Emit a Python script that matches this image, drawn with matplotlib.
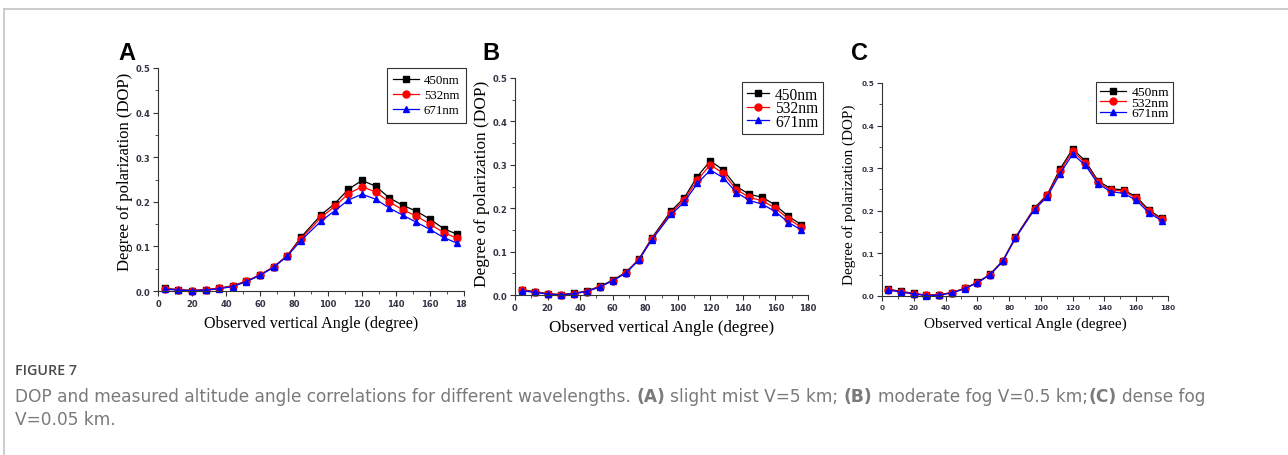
import numpy as np
import matplotlib
matplotlib.use("Agg")
import matplotlib.pyplot as plt
from matplotlib.lines import Line2D
from matplotlib.ticker import MultipleLocator
from matplotlib.transforms import Bbox

# Data
angles = [4, 12, 20, 28, 36, 44, 52, 60, 68, 76, 84, 96, 104, 112, 120, 128, 136, 144, 152, 160, 168, 176]
labels = ["450nm", "532nm", "671nm"]

# (A) slight mist
a_450 = [0.006, 0.003, 0.001, 0.003, 0.006, 0.012, 0.022, 0.036, 0.054, 0.079, 0.120, 0.171, 0.196, 0.228, 0.248, 0.235, 0.209, 0.192, 0.179, 0.161, 0.140, 0.127]
a_532 = [0.005, 0.003, 0.001, 0.003, 0.006, 0.011, 0.022, 0.036, 0.054, 0.079, 0.117, 0.165, 0.190, 0.218, 0.234, 0.222, 0.200, 0.182, 0.168, 0.150, 0.131, 0.118]
a_671 = [0.004, 0.002, 0.001, 0.002, 0.005, 0.010, 0.021, 0.035, 0.053, 0.078, 0.113, 0.157, 0.180, 0.204, 0.217, 0.206, 0.186, 0.170, 0.154, 0.138, 0.120, 0.107]

# (B) moderate fog
b_450 = [0.012, 0.008, 0.003, 0.001, 0.004, 0.009, 0.020, 0.034, 0.052, 0.082, 0.131, 0.194, 0.224, 0.273, 0.309, 0.288, 0.250, 0.232, 0.225, 0.207, 0.181, 0.162]
b_532 = [0.011, 0.007, 0.003, 0.001, 0.003, 0.008, 0.019, 0.033, 0.051, 0.081, 0.129, 0.190, 0.219, 0.265, 0.300, 0.280, 0.243, 0.225, 0.217, 0.200, 0.175, 0.156]
b_671 = [0.010, 0.006, 0.002, 0.000, 0.003, 0.008, 0.018, 0.033, 0.050, 0.080, 0.127, 0.186, 0.214, 0.257, 0.288, 0.270, 0.236, 0.218, 0.209, 0.192, 0.167, 0.150]

# (C) dense fog
c_450 = [0.016, 0.011, 0.006, 0.002, 0.003, 0.008, 0.018, 0.032, 0.051, 0.083, 0.138, 0.207, 0.238, 0.298, 0.345, 0.317, 0.270, 0.252, 0.249, 0.233, 0.202, 0.182]
c_532 = [0.015, 0.010, 0.005, 0.002, 0.003, 0.008, 0.018, 0.031, 0.050, 0.082, 0.137, 0.205, 0.236, 0.293, 0.340, 0.312, 0.267, 0.249, 0.246, 0.230, 0.199, 0.180]
c_671 = [0.014, 0.009, 0.005, 0.001, 0.002, 0.007, 0.017, 0.031, 0.050, 0.081, 0.136, 0.203, 0.233, 0.287, 0.333, 0.307, 0.263, 0.245, 0.241, 0.225, 0.195, 0.177]

W, H = 1288, 456
fig = plt.figure(figsize=(W / 100, H / 100), dpi=100)

def px(x0, y0, x1, y1):
    # pixel box -> figure fraction [left, bottom, width, height]
    return [x0 / W, 1 - y1 / H, (x1 - x0) / W, (y1 - y0) / H]

panels = [
    dict(name="A", box=(158, 69, 464, 292), data=(a_450, a_532, a_671), tick=6.0, lab=12.0, xlab=11.6,
         ypad=2, ly=0.54, leg=9.3, ls=0.22, bp=0.5, hl=1.95, legpos=(466, 69), letter=(118, 53)),
    dict(name="B", box=(515, 79, 808, 296), data=(b_450, b_532, b_671), tick=6.0, lab=12.4, xlab=12.2,
         ypad=2, ly=0.515, leg=11.2, ls=-0.16, bp=0.3, hl=1.4, legpos=(823, 83), letter=(482, 53)),
    dict(name="C", box=(882, 84, 1168, 297), data=(c_450, c_532, c_671), tick=5.2, lab=10.9, xlab=11.0,
         ypad=4, ly=0.48, leg=9.7, ls=-0.15, bp=0.3, hl=1.95, legpos=(1173, 83), letter=(851, 53)),
]

styles = [("black", "s"), ("red", "o"), ("blue", "^")]
serif = "Liberation Serif"

for p in panels:
    ax = fig.add_axes(px(*p["box"]))
    for ys, (c, m), lab in zip(p["data"], styles, labels):
        ax.plot(angles, ys, color=c, marker=m, markersize=5, linewidth=0.9, label=lab, clip_on=False)
    ax.set_xlim(0, 180)
    ax.set_ylim(0, 0.5)
    ax.xaxis.set_major_locator(MultipleLocator(20))
    ax.xaxis.set_minor_locator(MultipleLocator(10))
    ax.yaxis.set_major_locator(MultipleLocator(0.1))
    ax.yaxis.set_minor_locator(MultipleLocator(0.05))
    ax.yaxis.set_major_formatter(plt.FormatStrFormatter("%.1f"))
    for s in ["top", "right"]:
        ax.spines[s].set_visible(False)
    for s in ["left", "bottom"]:
        ax.spines[s].set_linewidth(0.8)
        ax.spines[s].set_color("#333333")
    ax.tick_params(which="major", direction="out", length=3.5, width=0.8, color="#333333",
                   labelsize=p["tick"], labelcolor="#333344", pad=2)
    ax.tick_params(which="minor", direction="out", length=2, width=0.6, color="#333333")
    for t in ax.get_xticklabels() + ax.get_yticklabels():
        t.set_fontweight("bold")
    ax.set_xlabel("Observed vertical Angle (degree)", fontfamily=serif, fontsize=p["xlab"], labelpad=5)
    ax.set_ylabel("Degree of polarization (DOP)", fontfamily=serif, fontsize=p["lab"],
                  labelpad=p["ypad"], y=p["ly"])
    lx, ly = p["legpos"]
    leg = ax.legend(loc="upper right", bbox_to_anchor=(lx / W, 1 - ly / H),
                    bbox_transform=fig.transFigure, prop={"family": serif, "size": p["leg"]},
                    frameon=True, fancybox=False, edgecolor="black", borderpad=p["bp"],
                    labelspacing=p["ls"], handlelength=p["hl"], handletextpad=0.4, borderaxespad=0)
    leg.get_frame().set_linewidth(0.8)
    lx0, ly0 = p["letter"]
    fig.text(lx0 / W, 1 - ly0 / H, p["name"], fontsize=17, fontweight="bold",
             fontfamily="Liberation Sans", va="center", ha="left")

# clip the cut-off "180" of panel A
fig.canvas.draw()
axA = fig.axes[0]
clip = Bbox.from_extents(0, 0, 467, H)
for t in axA.get_xticklabels():
    t.set_clip_box(clip)
    t.set_clip_on(True)

# card border
fig.add_artist(Line2D([4 / W, 4 / W], [0, 1 - 10 / H], transform=fig.transFigure, color="#c4c4c4", lw=1.2))
fig.add_artist(Line2D([4 / W, 1], [1 - 10 / H, 1 - 10 / H], transform=fig.transFigure, color="#c4c4c4", lw=1.2))

# caption
cap = "DejaVu Sans"
ccol = "#7a7a7a"
cs = 11.0
x0 = 15
fig.text(x0 / W, 1 - 371 / H, "FIGURE 7", fontfamily="Open Sans", fontsize=10.3, color="#4a4a4a",
         va="center", ha="left", fontweight="semibold")
parts = [
    ("DOP and measured altitude angle correlations for different wavelengths.", "normal", 0),
    ("(A)", "bold", 3.4),
    ("slight mist V=5 km;", "normal", 3.4),
    ("(B)", "bold", 3.4),
    ("moderate fog V=0.5 km;", "normal", 3.4),
    ("(C)", "bold", 0.5),
    ("dense fog", "normal", 3.4),
]
texts = []
prev = None
for txt, wt, gap in parts:
    if prev is None:
        prev = fig.text(x0 / W, 1 - 397 / H, txt, fontfamily=cap, fontsize=cs, color=ccol,
                        va="center", ha="left", fontweight=wt)
    else:
        prev = plt.annotate(txt, xy=(1, 0.5), xycoords=prev, xytext=(gap, 0), textcoords="offset points",
                            va="center", ha="left", fontfamily=cap, fontsize=cs, color=ccol,
                            fontweight=wt, annotation_clip=False)
    texts.append(prev)
line2 = fig.text(x0 / W, 1 - 420 / H, "V=0.05 km.", fontfamily=cap, fontsize=cs, color=ccol,
                 va="center", ha="left")

# fit the first caption line to the width it takes in the reference
fig.canvas.draw()
r = fig.canvas.get_renderer()
x_end = texts[-1].get_window_extent(r).x1
scale = (1210 - x0) / (x_end - x0)
for t in texts + [line2]:
    t.set_fontsize(cs * scale)
for t, (_, _, gap) in zip(texts[1:], parts[1:]):
    t.xyann = (gap * scale, 0)

fig.savefig("out.png", dpi=100)
